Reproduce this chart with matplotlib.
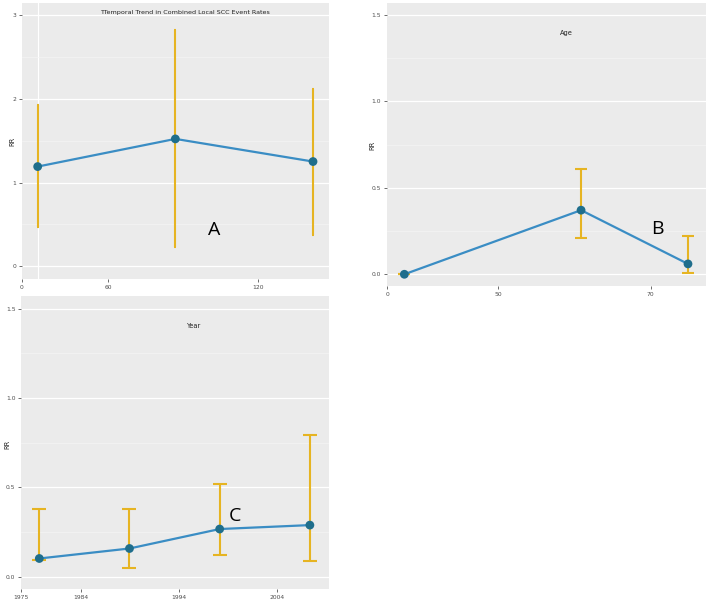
import matplotlib.pyplot as plt

# Panel A - overall trend (category positions on x)
a_x = [1, 2, 3]
a_rr = [1.19, 1.52, 1.25]
a_lo = [0.47, 0.23, 0.37]
a_hi = [1.92, 2.82, 2.12]
a_ticks = [0.886, 1.511, 2.600]
a_ticklabels = ["0", "60", "120"]

# Panel B - age
b_x = [1, 3, 4.21]
b_rr = [0.0, 0.371, 0.06]
b_lo = [0.0, 0.21, 0.006]
b_hi = [0.0, 0.607, 0.224]
b_ticks = [0.808, 2.064, 3.789]
b_ticklabels = ["0", "50", "70"]

# Panel C - year
c_x = [1, 2, 3, 4]
c_rr = [0.101, 0.157, 0.266, 0.288]
c_lo = [0.09, 0.049, 0.118, 0.088]
c_hi = [0.376, 0.378, 0.519, 0.794]
c_ticks = [0.797, 1.462, 2.552, 3.639]
c_ticklabels = ["1975", "1984", "1994", "2004"]

BG = '#EBEBEB'
LINE = '#3A8DC4'
PT = '#1F6E8C'
ERR = '#E6B422'
TXT = '#4D4D4D'

fig = plt.figure(figsize=(7.09, 6.0), dpi=100)


def panel(rect, x, rr, lo, hi, ticks, ticklabels, xlim, ylim, yticks, yfmt, capsize):
    ax = fig.add_axes(rect)
    ax.set_facecolor(BG)
    for s in ax.spines.values():
        s.set_visible(False)
    ax.set_xlim(*xlim)
    ax.set_ylim(*ylim)
    ax.set_yticks(yticks)
    ax.set_yticklabels([yfmt.format(v) for v in yticks])
    minor = [(yticks[i] + yticks[i + 1]) / 2 for i in range(len(yticks) - 1)]
    ax.set_yticks(minor, minor=True)
    ax.set_xticks(ticks)
    ax.set_xticklabels(ticklabels)
    ax.grid(True, axis='y', which='major', color='white', linewidth=0.9)
    ax.grid(True, axis='y', which='minor', color='#F5F5F5', linewidth=0.45)
    ax.set_axisbelow(True)
    ax.tick_params(axis='both', which='major', length=2, width=0.5, color='#333333',
                   labelsize=4.3, labelcolor=TXT, pad=2)
    ax.tick_params(axis='y', which='minor', length=0)
    yerr = [[r - l for r, l in zip(rr, lo)], [h - r for r, h in zip(rr, hi)]]
    ax.errorbar(x, rr, yerr=yerr, fmt='none', ecolor=ERR, elinewidth=1.5,
                capsize=capsize, capthick=1.5, zorder=2)
    ax.plot(x, rr, color=LINE, linewidth=1.6, zorder=3)
    ax.scatter(x, rr, s=40, color=PT, zorder=4, edgecolors='none')
    return ax


axA = panel([0.031, 0.535, 0.433, 0.46], a_x, a_rr, a_lo, a_hi, a_ticks, a_ticklabels,
            (0.886, 3.116), (-0.15, 3.14), [0, 1, 2, 3], "{:.0f}", 1)
axA.axvline(a_x[0], color='white', linewidth=0.8, zorder=0)
axA.text(0.531, 0.967, "TTemporal Trend in Combined Local SCC Event Rates", transform=axA.transAxes,
         ha='center', va='center', fontsize=4.6, color='#222222')
axA.text(0.625, 0.178, "A", transform=axA.transAxes, ha='center', va='center',
         fontsize=14, fontfamily='Open Sans', color='black')

axB = panel([0.5454, 0.5233, 0.45, 0.4717], b_x, b_rr, b_lo, b_hi, b_ticks, b_ticklabels,
            (0.80, 4.411), (-0.068, 1.57), [0.0, 0.5, 1.0, 1.5], "{:.1f}", 4)
axB.text(0.564, 0.894, "Age", transform=axB.transAxes, ha='center', va='center',
         fontsize=4.8, color='#222222')
axB.text(0.847, 0.201, "B", transform=axB.transAxes, ha='center', va='center',
         fontsize=14, fontfamily='Open Sans', color='black')

axC = panel([0.0296, 0.0183, 0.4348, 0.488], c_x, c_rr, c_lo, c_hi, c_ticks, c_ticklabels,
            (0.797, 4.215), (-0.07, 1.57), [0.0, 0.5, 1.0, 1.5], "{:.1f}", 5)
axC.text(0.56, 0.898, "Year", transform=axC.transAxes, ha='center', va='center',
         fontsize=4.8, color='#222222')
axC.text(0.693, 0.25, "C", transform=axC.transAxes, ha='center', va='center',
         fontsize=14, fontfamily='Open Sans', color='black')

# y-axis titles
fig.text(12 / 709, 1 - 141 / 600, "RR", rotation=90, ha='center', va='center', fontsize=4.8, color='#222222')
fig.text(372.7 / 709, 1 - 145 / 600, "RR", rotation=90, ha='center', va='center', fontsize=4.8, color='#222222')
fig.text(7 / 709, 1 - 444 / 600, "RR", rotation=90, ha='center', va='center', fontsize=4.8, color='#222222')

fig.savefig("out.png", dpi=100, facecolor='white')
